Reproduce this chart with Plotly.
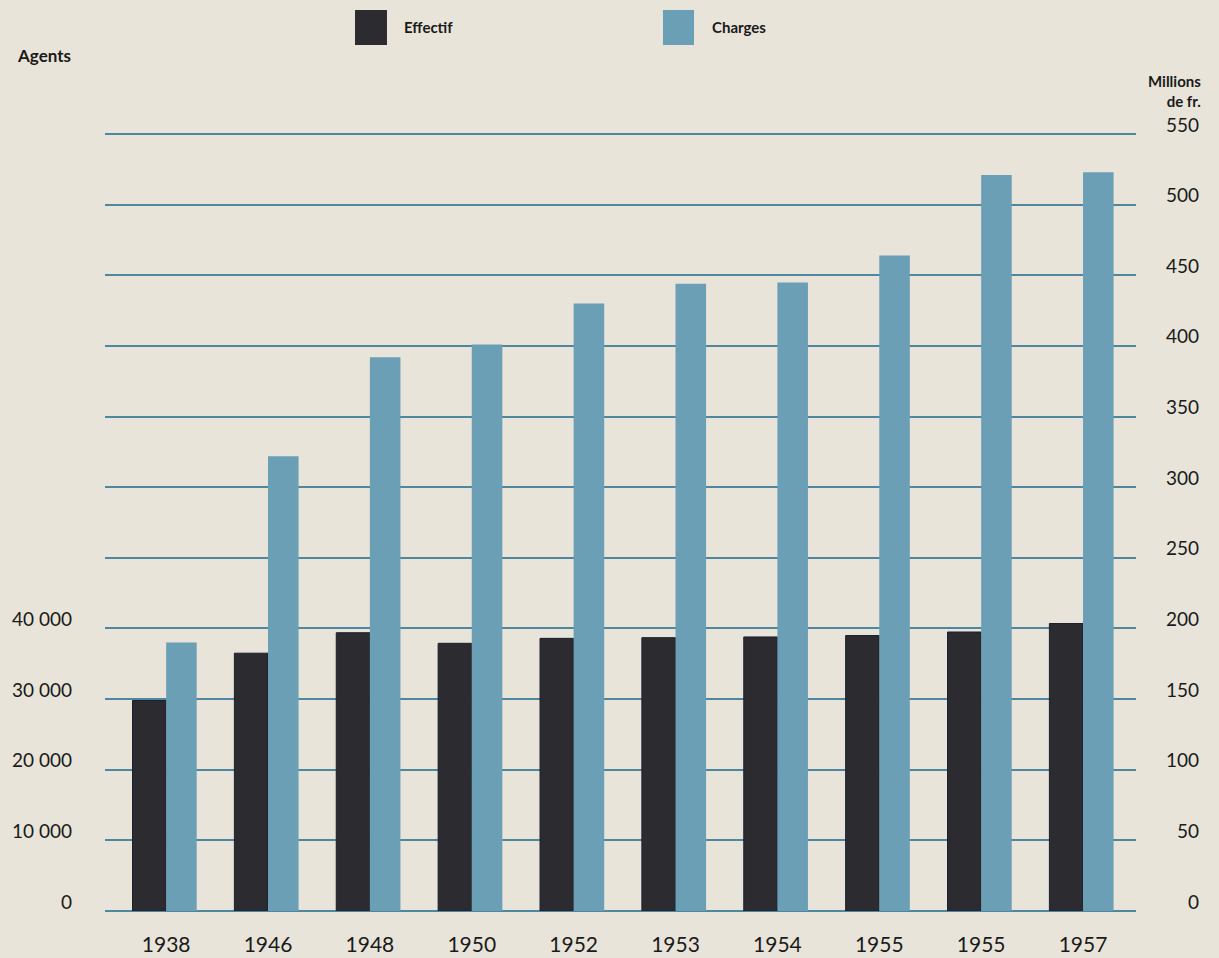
import plotly.graph_objects as go

# ---- data ----
years = ["1938", "1946", "1948", "1950", "1952", "1953", "1954", "1955", "1955", "1957"]
effectif = [29800, 36500, 39400, 37900, 38600, 38700, 38800, 39000, 39500, 40700]   # agents
charges = [190, 322, 392, 401, 430, 444, 445, 464, 521, 523]                         # millions de fr.
left_ticks = [0, 10000, 20000, 30000, 40000]
left_labels = ["0", "10 000", "20 000", "30 000", "40 000"]
right_ticks = [0, 50, 100, 150, 200, 250, 300, 350, 400, 450, 500, 550]

BG = "#e8e4d9"
DARK = "#2c2b30"
BLUE = "#6b9fb6"
GRID = "#4f87a1"
TXT = "#1a1a1a"
FONT = "Lato"

idx = list(range(len(years)))

fig = go.Figure()
fig.add_trace(go.Bar(
    x=idx, y=effectif, name="Effectif", yaxis="y",
    width=0.33, offset=-0.33,
    marker=dict(color=DARK, line=dict(color="#1b2030", width=1)),
))
fig.add_trace(go.Bar(
    x=idx, y=charges, name="Charges", yaxis="y2",
    width=0.30, offset=0.0,
    marker=dict(color=BLUE, line=dict(color=BLUE, width=0)),
))

fig.update_layout(
    width=1219, height=958,
    paper_bgcolor=BG, plot_bgcolor=BG,
    margin=dict(l=105, r=83, t=127, b=47, autoexpand=False),
    barmode="overlay",
    showlegend=False,
    font=dict(family=FONT, color=TXT),
    xaxis=dict(
        range=[-0.6, 9.52], tickmode="array", tickvals=idx, ticktext=years,
        showgrid=False, zeroline=False, showline=False, ticks="",
        tickfont=dict(size=21, family=FONT, color=TXT), ticklabelstandoff=19,
        automargin=False,
    ),
    yaxis=dict(
        range=[0, 111000], tickmode="array", tickvals=left_ticks, ticktext=left_labels,
        showgrid=False, zeroline=False, showline=False, ticks="",
        tickfont=dict(size=19, family=FONT, color=TXT), ticklabelstandoff=32,
        ticklabelshift=-9, automargin=False,
    ),
    yaxis2=dict(
        range=[0, 555], overlaying="y", side="right",
        tickmode="array", tickvals=right_ticks,
        showgrid=True, gridcolor=GRID, gridwidth=2,
        zeroline=True, zerolinecolor=GRID, zerolinewidth=2,
        showline=False, ticks="", showticklabels=False, automargin=False,
    ),
)

# right-aligned right-axis labels
for v in right_ticks:
    fig.add_annotation(
        x=1.063, xref="paper", y=v, yref="y2", yshift=10,
        text=str(v), showarrow=False, xanchor="right", yanchor="middle",
        font=dict(size=19, family=FONT, color=TXT),
    )

# paper-y helper: plot area spans 127..911 px (784 px)
def py(pix):
    return (911 - pix) / 784.0

# axis titles
fig.add_annotation(x=-0.087, xref="paper", y=py(55), yref="paper", text="<b>Agents</b>",
                   showarrow=False, xanchor="left", yanchor="middle",
                   font=dict(size=17, family=FONT, color=TXT))
fig.add_annotation(x=1.065, xref="paper", y=py(91), yref="paper", text="<b>Millions<br>de fr.</b>",
                   showarrow=False, xanchor="right", yanchor="middle", align="right",
                   font=dict(size=15, family=FONT, color=TXT))

# legend drawn as swatches + labels
legend_items = [("Effectif", DARK, 0.2425, 0.2735, 0.288),
                ("Charges", BLUE, 0.5412, 0.5713, 0.5868)]
for name, col, x0, x1, xt in legend_items:
    fig.add_shape(type="rect", xref="paper", yref="paper", x0=x0, x1=x1, y0=py(45), y1=py(10),
                  fillcolor=col, line=dict(width=0))
    fig.add_annotation(x=xt, xref="paper", y=py(27), yref="paper", text="<b>" + name + "</b>",
                       showarrow=False, xanchor="left", yanchor="middle",
                       font=dict(size=15, family=FONT, color=TXT))

fig.write_html("out.html", config={"displayModeBar": False},
               post_script="document.body.style.margin='0';")
